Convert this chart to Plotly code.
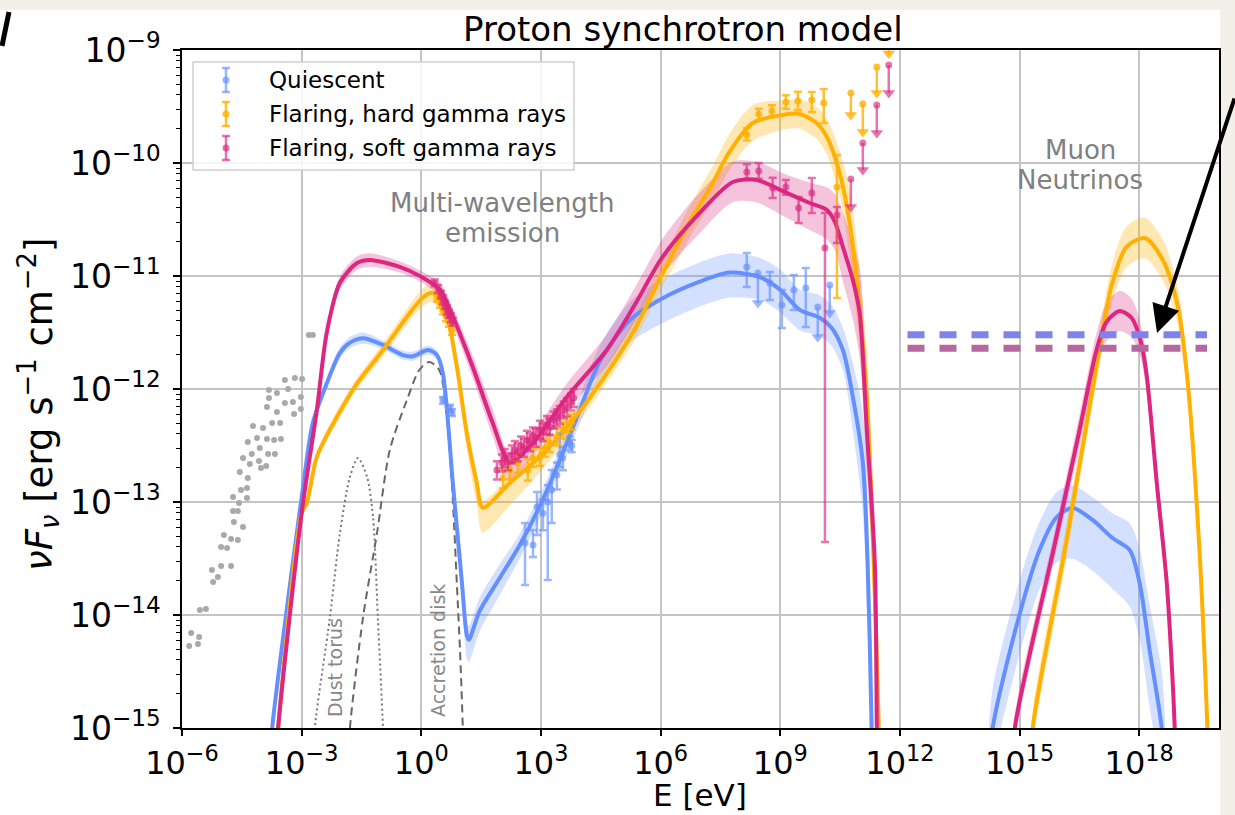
import plotly.graph_objects as go

# ---------------- model curves: log10 E [eV], log10 nuFnu [erg s^-1 cm^-2], band (+/- dex)
# Quiescent (blue), multi-wavelength
q_logE = [-3.85, -3.74, -3.0, -2.72, -2.37, -2.04, -1.79, -1.46, -0.96, -0.46, -0.21, 0.17, 0.39, 0.54,
          0.79, 1.02, 1.14, 1.19, 1.47, 1.97, 2.47, 3.02, 3.47, 3.97, 4.47, 5.23, 5.98, 6.98, 7.73, 8.49,
          8.99, 9.49, 9.99, 10.29, 10.57, 10.82, 11.07, 11.19, 11.29, 11.32]
q_logF = [-15.5, -15.0, -12.96, -12.30, -11.95, -11.68, -11.59, -11.55, -11.61, -11.70, -11.71, -11.655, -11.70, -11.86,
          -12.83, -13.72, -14.18, -14.22, -13.96, -13.67, -13.38, -13.0, -12.63, -12.19, -11.76, -11.39, -11.21, -11.05, -10.97, -11.01,
          -11.12, -11.30, -11.37, -11.46, -11.655, -12.07, -12.655, -13.54, -15.0, -15.64]
q_bup = [0.05, 0.05, 0.05, 0.05, 0.05, 0.05, 0.05, 0.05, 0.04, 0.04, 0.04, 0.04, 0.04, 0.05,
         0.08, 0.12, 0.12, 0.12, 0.12, 0.12, 0.10, 0.10, 0.10, 0.12, 0.14, 0.16, 0.17, 0.17, 0.17, 0.17,
         0.18, 0.18, 0.20, 0.20, 0.20, 0.30, 0.45, 0.55, 0.6, 0.6]
q_bdn = [0.05, 0.05, 0.05, 0.05, 0.05, 0.05, 0.05, 0.05, 0.04, 0.04, 0.04, 0.04, 0.04, 0.05,
         0.10, 0.15, 0.20, 0.20, 0.18, 0.15, 0.12, 0.10, 0.10, 0.12, 0.16, 0.20, 0.22, 0.22, 0.22, 0.20,
         0.20, 0.18, 0.16, 0.16, 0.18, 0.30, 0.45, 0.55, 0.6, 0.6]
# Quiescent neutrinos
qn_logE = [14.2, 14.33, 14.98, 15.5, 15.93, 16.33, 16.83, 17.33, 17.76, 18.01, 18.26, 18.56, 18.66]
qn_logF = [-15.55, -14.99, -14.02, -13.425, -13.133, -13.053, -13.159, -13.319, -13.425, -13.717, -14.31, -14.99, -15.55]
qn_bup = [0.35, 0.35, 0.3, 0.25, 0.22, 0.2, 0.2, 0.22, 0.24, 0.3, 0.4, 0.5, 0.5]
qn_bdn = [0.35, 0.35, 0.35, 0.35, 0.4, 0.45, 0.45, 0.45, 0.5, 0.5, 0.5, 0.5, 0.5]

# Flaring, hard gamma rays (orange)
h_logE = [-3.69, -3.59, -3.0, -2.87, -2.62, -2.12, -1.61, -0.96, -0.36, 0.04, 0.29, 0.64, 0.89, 1.14,
          1.39, 1.54, 2.22, 2.97, 3.65, 4.48, 5.30, 6.03, 6.73, 7.28, 7.73, 8.31, 9.06, 9.49, 9.91, 10.17,
          10.49, 10.74, 10.94, 11.17, 11.34, 11.47, 11.49]
h_logF = [-15.55, -15.0, -13.10, -13.01, -12.60, -12.25, -11.95, -11.655, -11.36, -11.19, -11.15, -11.36, -11.80, -12.39,
          -12.83, -13.05, -12.83, -12.60, -12.34, -11.95, -11.50, -10.99, -10.52, -10.195, -9.90, -9.646, -9.575, -9.566, -9.646, -9.77,
          -10.09, -10.53, -11.12, -12.07, -13.51, -15.0, -15.55]
h_bup = [0.03, 0.03, 0.03, 0.03, 0.04, 0.05, 0.05, 0.06, 0.07, 0.08, 0.08, 0.08, 0.10, 0.10,
         0.08, 0.06, 0.06, 0.06, 0.06, 0.08, 0.10, 0.12, 0.14, 0.15, 0.16, 0.16, 0.13, 0.13, 0.14, 0.16,
         0.20, 0.30, 0.35, 0.4, 0.4, 0.4, 0.4]
h_bdn = [0.03, 0.03, 0.03, 0.03, 0.04, 0.05, 0.05, 0.06, 0.07, 0.08, 0.08, 0.08, 0.10, 0.14,
         0.20, 0.22, 0.20, 0.14, 0.10, 0.08, 0.10, 0.12, 0.14, 0.15, 0.16, 0.16, 0.13, 0.13, 0.14, 0.16,
         0.20, 0.30, 0.35, 0.4, 0.4, 0.4, 0.4]
hn_logE = [15.25, 15.33, 16.18, 17.0, 17.31, 17.68, 18.14, 18.59, 18.96, 19.21, 19.51, 19.71, 19.76]
hn_logF = [-15.55, -15.0, -13.336, -11.655, -11.08, -10.743, -10.664, -10.858, -11.257, -11.92, -13.425, -15.0, -15.55]
hn_bup = [0.15, 0.15, 0.15, 0.15, 0.17, 0.18, 0.18, 0.18, 0.17, 0.15, 0.15, 0.15, 0.15]
hn_bdn = [0.15, 0.15, 0.15, 0.15, 0.17, 0.18, 0.18, 0.18, 0.17, 0.15, 0.15, 0.15, 0.15]

# Flaring, soft gamma rays (magenta)
s_logE = [-3.69, -3.59, -3.0, -2.62, -2.37, -2.04, -1.61, -1.29, -0.54, 0.015, 0.47, 0.72, 1.29, 1.79,
          2.22, 2.80, 3.65, 4.65, 5.35, 6.03, 6.98, 7.81, 8.41, 9.16, 9.74, 10.17, 10.37, 10.57, 10.82, 10.99,
          11.17, 11.37, 11.42, 11.44]
s_logF = [-15.55, -15.0, -13.10, -12.19, -11.50, -11.06, -10.885, -10.858, -10.92, -11.01, -11.12, -11.30, -11.805, -12.30,
          -12.646, -12.478, -12.071, -11.655, -11.257, -10.841, -10.442, -10.168, -10.150, -10.265, -10.354, -10.416, -10.522, -10.743, -11.035, -11.327,
          -12.363, -13.54, -15.0, -15.55]
s_bup = [0.03, 0.03, 0.04, 0.04, 0.05, 0.06, 0.06, 0.06, 0.05, 0.05, 0.06, 0.07, 0.10, 0.12,
         0.08, 0.10, 0.12, 0.14, 0.15, 0.16, 0.18, 0.18, 0.16, 0.16, 0.18, 0.20, 0.25, 0.30, 0.35, 0.4,
         0.4, 0.4, 0.4, 0.4]
s_bdn = [0.03, 0.03, 0.04, 0.04, 0.05, 0.06, 0.06, 0.06, 0.05, 0.05, 0.06, 0.07, 0.10, 0.12,
         0.16, 0.12, 0.12, 0.14, 0.15, 0.16, 0.18, 0.18, 0.20, 0.22, 0.24, 0.26, 0.25, 0.30, 0.35, 0.4,
         0.4, 0.4, 0.4, 0.4]
sn_logE = [14.78, 14.88, 15.905, 16.505, 16.93, 17.18, 17.51, 17.81, 18.03, 18.185, 18.44, 18.69, 18.84, 18.89, 18.94]
sn_logF = [-15.55, -15.0, -13.336, -12.363, -11.655, -11.407, -11.31, -11.372, -11.566, -11.876, -12.832, -13.717, -14.602, -15.0, -15.55]
sn_bup = [0.12, 0.12, 0.12, 0.14, 0.15, 0.17, 0.18, 0.17, 0.15, 0.15, 0.15, 0.15, 0.15, 0.15, 0.15]
sn_bdn = [0.12, 0.12, 0.12, 0.14, 0.15, 0.17, 0.18, 0.17, 0.15, 0.15, 0.15, 0.15, 0.15, 0.15, 0.15]

# Thermal components (grey)
torus_logE = [-2.74, -2.67, -2.29, -2.04, -1.79, -1.59, -1.36, -1.21, -1.09, -0.96, -0.91]
torus_logF = [-15.46, -15.0, -14.018, -13.274, -12.779, -12.611, -12.779, -13.133, -14.018, -15.0, -15.46]
disk_logE = [-1.86, -1.79, -1.46, -1.11, -0.79, -0.36, -0.05, 0.2, 0.45, 0.67, 0.79, 0.89, 0.97, 1.04, 1.06]
disk_logF = [-15.46, -15.0, -14.018, -13.274, -12.54, -12.097, -11.832, -11.761, -11.832, -12.363, -12.982, -13.717, -14.31, -14.99, -15.3]

# Archival radio/IR data (grey dots)
arch_logE = [-2.82, -2.72, -3.42, -3.17, -2.99, -3.34, -3.82, -3.62, -3.82, -3.42, -3.22, -3.02, -3.87, -3.62, -3.19, -3.02,
             -3.74, -3.54, -4.22, -3.97, -4.12, -3.87, -3.69, -3.52, -4.35, -4.05, -4.25, -3.84, -3.67, -4.47, -4.07, -4.30,
             -4.02, -3.89, -4.55, -4.35, -4.37, -4.52, -4.72, -4.37, -4.57, -4.72, -4.60, -4.70, -4.47, -4.95, -4.77, -4.60,
             -5.02, -4.87, -4.77, -5.02, -5.25, -5.10, -5.22, -5.55, -5.40, -5.77, -5.57, -5.60, -5.82]
arch_logF = [-11.522, -11.522, -11.920, -11.903, -11.912, -12.0, -12.009, -12.035, -12.08, -12.124, -12.115, -12.071, -12.159, -12.204, -12.221, -12.177,
             -12.301, -12.301, -12.327, -12.345, -12.434, -12.442, -12.451, -12.442, -12.469, -12.522, -12.575, -12.575, -12.575, -12.611, -12.637, -12.664,
             -12.699, -12.681, -12.735, -12.788, -12.876, -12.894, -12.956, -12.965, -13.009, -13.080, -13.080, -13.177, -13.221, -13.292, -13.327, -13.336,
             -13.398, -13.407, -13.566, -13.566, -13.602, -13.664, -13.708, -13.956, -13.947, -14.159, -14.195, -14.257, -14.274]

# ---------------- measured points (log10 E, log10 flux, upper / lower error edge)
qd_logE = [0.54, 0.72, 0.77, 2.60, 2.80, 2.90, 3.05, 3.17, 3.27, 3.40, 3.47, 3.55, 3.72, 3.77,
           8.16, 8.74, 9.04, 9.34, 9.64]
qd_logF = [-12.097, -12.168, -12.21, -13.363, -13.381, -13.044, -13.10, -13.0, -12.894, -12.76, -12.58, -12.61, -12.48, -12.50,
           -10.92, -11.062, -11.257, -11.124, -11.106]
qd_hi = [-12.07, -12.14, -12.18, -13.186, -13.248, -12.912, -12.98, -12.85, -12.717, -12.65, -12.39, -12.51, -12.42, -12.45,
         -10.796, -10.965, -11.124, -10.991, -10.929]
qd_lo = [-12.13, -12.20, -12.24, -13.735, -13.487, -13.292, -13.25, -13.69, -13.186, -12.89, -12.69, -12.72, -12.54, -12.56,
         -11.097, -11.212, -11.46, -11.30, -11.451]
qul_logE = [8.44, 9.94, 10.24]
qul_logF = [-10.973, -11.274, -11.080]
qul_tip = [-11.239, -11.54, -11.327]

hd_logE = [0.39, 0.47, 0.54, 0.62, 0.69, 0.77, 2.05, 2.22, 2.42, 2.67, 2.80, 2.97, 3.10, 3.22, 3.40, 3.55, 3.65, 3.77,
           8.16, 8.46, 8.79, 9.14, 9.44, 9.79, 10.09, 10.42]
hd_logF = [-11.195, -11.239, -11.301, -11.354, -11.407, -11.478, -12.788, -12.717, -12.655, -12.717, -12.611, -12.602, -12.522, -12.478,
           -12.425, -12.363, -12.319, -12.292, -9.752, -9.566, -9.54, -9.46, -9.451, -9.442, -9.469, -10.212]
hd_hi = [-11.16, -11.20, -11.26, -11.31, -11.37, -11.44, -12.70, -12.63, -12.57, -12.62, -12.53, -12.52, -12.44, -12.40,
         -12.35, -12.29, -12.25, -12.22, -9.69, -9.52, -9.49, -9.40, -9.37, -9.372, -9.345, -9.929]
hd_lo = [-11.23, -11.28, -11.34, -11.40, -11.45, -11.52, -12.88, -12.80, -12.74, -12.81, -12.69, -12.68, -12.60, -12.56,
         -12.50, -12.44, -12.39, -12.36, -9.80, -9.62, -9.59, -9.52, -9.53, -9.549, -9.646, -11.195]
hul_logE = [10.77, 11.07, 11.42, 11.72]
hul_logF = [-9.381, -9.478, -9.15, -8.85]
hul_tip = [-9.575, -9.726, -9.381, -9.03]

sd_logE = [0.34, 0.42, 0.49, 0.54, 0.59, 0.64, 0.69, 0.74, 0.79,
           1.895, 2.02, 2.095, 2.17, 2.27, 2.345, 2.42, 2.50, 2.57, 2.65, 2.72, 2.80, 2.87, 2.97, 3.05, 3.15, 3.22,
           3.32, 3.40, 3.47, 3.57, 3.65, 3.75, 3.82,
           8.16, 8.46, 8.81, 9.14, 9.46, 9.79, 10.12, 10.42]
sd_logF = [-11.062, -11.115, -11.168, -11.212, -11.257, -11.301, -11.336, -11.372, -11.407,
           -12.717, -12.655, -12.611, -12.646, -12.584, -12.540, -12.558, -12.504, -12.522, -12.451, -12.469, -12.416, -12.434, -12.363, -12.381, -12.319, -12.336,
           -12.274, -12.257, -12.230, -12.186, -12.159, -12.115, -12.080,
           -10.080, -10.071, -10.221, -10.212, -10.398, -10.265, -10.752, -10.460]
sd_hi = [-11.03, -11.08, -11.13, -11.17, -11.22, -11.26, -11.30, -11.33, -11.37,
         -12.64, -12.58, -12.53, -12.57, -12.50, -12.46, -12.48, -12.42, -12.44, -12.37, -12.39, -12.34, -12.35, -12.28, -12.30, -12.24, -12.26,
         -12.20, -12.18, -12.15, -12.11, -12.08, -12.04, -12.00,
         -10.01, -10.00, -10.13, -10.15, -10.301, -10.133, -10.442, -10.389]
sd_lo = [-11.09, -11.15, -11.20, -11.25, -11.29, -11.34, -11.37, -11.41, -11.44,
         -12.80, -12.73, -12.69, -12.72, -12.66, -12.62, -12.64, -12.58, -12.60, -12.53, -12.55, -12.49, -12.51, -12.44, -12.46, -12.40, -12.41,
         -12.35, -12.33, -12.31, -12.26, -12.24, -12.19, -12.16,
         -10.15, -10.14, -10.31, -10.28, -10.531, -10.442, -13.354, -10.708]
sul_logE = [10.77, 11.07, 11.42, 11.72]
sul_logF = [-10.142, -9.823, -9.487, -9.133]
sul_tip = [-10.389, -10.062, -9.735, -9.381]

# Neutrino sensitivity levels
nu_logE = [12.19, 19.70]
nu_blue_logF = -11.52
nu_mauve_logF = -11.64

# Axis ticks
x_tick_exp = [-6, -3, 0, 3, 6, 9, 12, 15, 18]
y_tick_exp = [-15, -14, -13, -12, -11, -10, -9]

BLUE, ORANGE, PINK = "#648FFF", "#FFB000", "#DC267F"
BLUE_F, ORANGE_F, PINK_F = "rgba(100,143,255,0.28)", "rgba(255,176,0,0.30)", "rgba(220,38,127,0.28)"
BLUE_D, ORANGE_D, PINK_D = "rgba(100,143,255,0.65)", "rgba(255,176,0,0.8)", "rgba(220,38,127,0.65)"

FONT = "DejaVu Sans"


def pw(a):
    return [10 ** v for v in a]


fig = go.Figure()


def add_band(lx, lf, up, dn, color):
    xs = lx + lx[::-1]
    ys = [f + u for f, u in zip(lf, up)] + [f - d for f, d in zip(lf, dn)][::-1]
    fig.add_trace(go.Scatter(x=pw(xs), y=pw(ys), mode="lines", fill="toself", fillcolor=color,
                             line=dict(width=0, shape="spline", smoothing=0.8), hoverinfo="skip"))


def add_line(lx, lf, color, width=4, dash=None):
    fig.add_trace(go.Scatter(x=pw(lx), y=pw(lf), mode="lines",
                             line=dict(color=color, width=width, shape="spline", smoothing=0.8, dash=dash)))


def add_points(lx, lf, hi, lo, color):
    f = pw(lf)
    plus = [10 ** h - v for h, v in zip(hi, f)]
    minus = [v - 10 ** l for l, v in zip(lo, f)]
    fig.add_trace(go.Scatter(x=pw(lx), y=f, mode="markers",
                             marker=dict(color=color, size=7),
                             error_y=dict(type="data", symmetric=False, array=plus, arrayminus=minus,
                                          color=color, thickness=2.5, width=4)))


def add_ul(lx, lf, tip, color):
    f = pw(lf)
    minus = [v - 10 ** t for t, v in zip(tip, f)]
    fig.add_trace(go.Scatter(x=pw(lx), y=f, mode="markers",
                             marker=dict(color=color, size=7),
                             error_y=dict(type="data", symmetric=False, array=[0] * len(f), arrayminus=minus,
                                          color=color, thickness=2.5, width=0)))
    fig.add_trace(go.Scatter(x=pw(lx), y=pw(tip), mode="markers",
                             marker=dict(color=color, size=11, symbol="triangle-down")))


# bands
for args in [(q_logE, q_logF, q_bup, q_bdn, BLUE_F), (qn_logE, qn_logF, qn_bup, qn_bdn, BLUE_F),
             (h_logE, h_logF, h_bup, h_bdn, ORANGE_F), (hn_logE, hn_logF, hn_bup, hn_bdn, ORANGE_F),
             (s_logE, s_logF, s_bup, s_bdn, PINK_F), (sn_logE, sn_logF, sn_bup, sn_bdn, PINK_F)]:
    add_band(*args)

# thermal components
add_line(torus_logE, torus_logF, "#777777", width=2, dash="2px,3px")
add_line(disk_logE, disk_logF, "#666666", width=2, dash="8px,5px")

# archival points
fig.add_trace(go.Scatter(x=pw(arch_logE), y=pw(arch_logF), mode="markers",
                         marker=dict(color="#a9a9a9", size=6)))

# model lines
add_line(q_logE, q_logF, BLUE)
add_line(qn_logE, qn_logF, BLUE)
add_line(h_logE, h_logF, ORANGE)
add_line(hn_logE, hn_logF, ORANGE)
add_line(s_logE, s_logF, PINK)
add_line(sn_logE, sn_logF, PINK)

# measurements
add_points(qd_logE, qd_logF, qd_hi, qd_lo, BLUE_D)
add_ul(qul_logE, qul_logF, qul_tip, BLUE_D)
add_points(hd_logE, hd_logF, hd_hi, hd_lo, ORANGE_D)
add_ul(hul_logE, hul_logF, hul_tip, ORANGE_D)
add_points(sd_logE, sd_logF, sd_hi, sd_lo, PINK_D)
add_ul(sul_logE, sul_logF, sul_tip, PINK_D)

# neutrino levels
fig.add_trace(go.Scatter(x=pw(nu_logE), y=pw([nu_blue_logF] * 2), mode="lines",
                         line=dict(color="#7d82ec", width=7, dash="17px,15px")))
fig.add_trace(go.Scatter(x=pw(nu_logE), y=pw([nu_mauve_logF] * 2), mode="lines",
                         line=dict(color="#b4689f", width=7, dash="17px,15px")))

# ---------------- layout helpers (pixel -> paper) for decorations
L, R, T, B = 182, 1219, 50, 728


def px(x):
    return (x - L) / (R - L)


def py(y):
    return (B - y) / (B - T)


shapes = [
    dict(type="rect", xref="paper", yref="paper", x0=px(0), x1=px(1220), y0=py(815), y1=py(10),
         fillcolor="white", line=dict(width=0), layer="below"),
    dict(type="line", xref="paper", yref="paper", x0=px(9), y0=py(12), x1=px(2), y1=py(46),
         line=dict(color="black", width=5)),
    # legend frame
    dict(type="rect", xref="paper", yref="paper", x0=px(193), x1=px(574), y0=py(170), y1=py(62),
         fillcolor="rgba(255,255,255,0.85)", line=dict(color="#d0d0d0", width=1.5)),
]
annotations = []
leg = [("Quiescent", BLUE_D, 80), ("Flaring, hard gamma rays", ORANGE_D, 114),
       ("Flaring, soft gamma rays", PINK_D, 148)]
for label, col, yc in leg:
    shapes.append(dict(type="line", xref="paper", yref="paper", x0=px(226), x1=px(226), y0=py(yc - 12), y1=py(yc + 12),
                       line=dict(color=col, width=2.5)))
    for yy in (yc - 12, yc + 12):
        shapes.append(dict(type="line", xref="paper", yref="paper", x0=px(222), x1=px(230), y0=py(yy), y1=py(yy),
                           line=dict(color=col, width=2.5)))
    shapes.append(dict(type="circle", xref="paper", yref="paper", x0=px(222.5), x1=px(229.5), y0=py(yc + 3.5),
                       y1=py(yc - 3.5), fillcolor=col, line=dict(width=0)))
    annotations.append(dict(text=label, xref="paper", yref="paper", x=px(267), y=py(yc), xanchor="left",
                            yanchor="middle", showarrow=False, font=dict(size=23, color="black", family=FONT)))


def txt(t, x, y, size, color="black", angle=0):
    annotations.append(dict(text=t, xref="paper", yref="paper", x=px(x), y=py(y), xanchor="center",
                            yanchor="middle", showarrow=False, textangle=angle,
                            font=dict(size=size, color=color, family=FONT)))


txt("Proton synchrotron model", 683, 29, 34)
txt("Multi-wavelength", 502, 203, 26, "#808080")
txt("emission", 502, 233, 26, "#808080")
txt("Muon", 1080, 150, 26, "#808080")
txt("Neutrinos", 1080, 180, 26, "#808080")
txt("Dust torus", 335, 668, 19, "#888888", -90)
txt("Accretion disk", 438, 651, 19, "#888888", -90)
txt("E [eV]", 700, 795, 31)
txt("<i>νF<sub>ν</sub></i> [erg s<sup>−1</sup> cm<sup>−2</sup>]", 38, 405, 37, "black", -90)

# arrow
annotations.append(dict(text="", xref="paper", yref="paper", x=px(1157), y=py(333), ax=80, ay=-236,
                        showarrow=True, arrowhead=2, arrowsize=1.4, arrowwidth=4, arrowcolor="black"))

minor_vals = [k * 10 ** e for e in range(-15, -9) for k in range(2, 10)]

fig.update_layout(
    width=1235, height=815, autosize=False,
    margin=dict(l=L, r=1235 - R, t=T, b=815 - B),
    paper_bgcolor="#f3f0ea", plot_bgcolor="white",
    showlegend=False, font=dict(family=FONT, color="black"),
    shapes=shapes, annotations=annotations,
    xaxis=dict(type="log", range=[-6, 20], tickmode="array",
               tickvals=[10 ** e for e in x_tick_exp],
               ticktext=["10<sup>%s</sup>" % (str(e).replace("-", "−")) for e in x_tick_exp],
               showgrid=True, gridcolor="#c4c4c4", gridwidth=1.5, zeroline=False,
               ticks="outside", ticklen=6, tickwidth=1.5, tickcolor="black",
               showline=True, linecolor="black", linewidth=1.5, mirror=True,
               tickfont=dict(size=32, family=FONT, color="black")),
    yaxis=dict(type="log", range=[-15, -9], tickmode="array",
               tickvals=[10 ** e for e in y_tick_exp],
               ticktext=["10<sup>%s</sup>" % (str(e).replace("-", "−")) for e in y_tick_exp],
               showgrid=True, gridcolor="#c4c4c4", gridwidth=1.5, zeroline=False,
               ticks="outside", ticklen=7, tickwidth=1.5, tickcolor="black",
               showline=True, linecolor="black", linewidth=1.5, mirror=True,
               ticklabelstandoff=6,
               minor=dict(tickmode="array", tickvals=minor_vals, ticks="outside", ticklen=4,
                          tickwidth=1, tickcolor="black", showgrid=False),
               tickfont=dict(size=33, family=FONT, color="black")),
)

fig.write_html("out.html")
